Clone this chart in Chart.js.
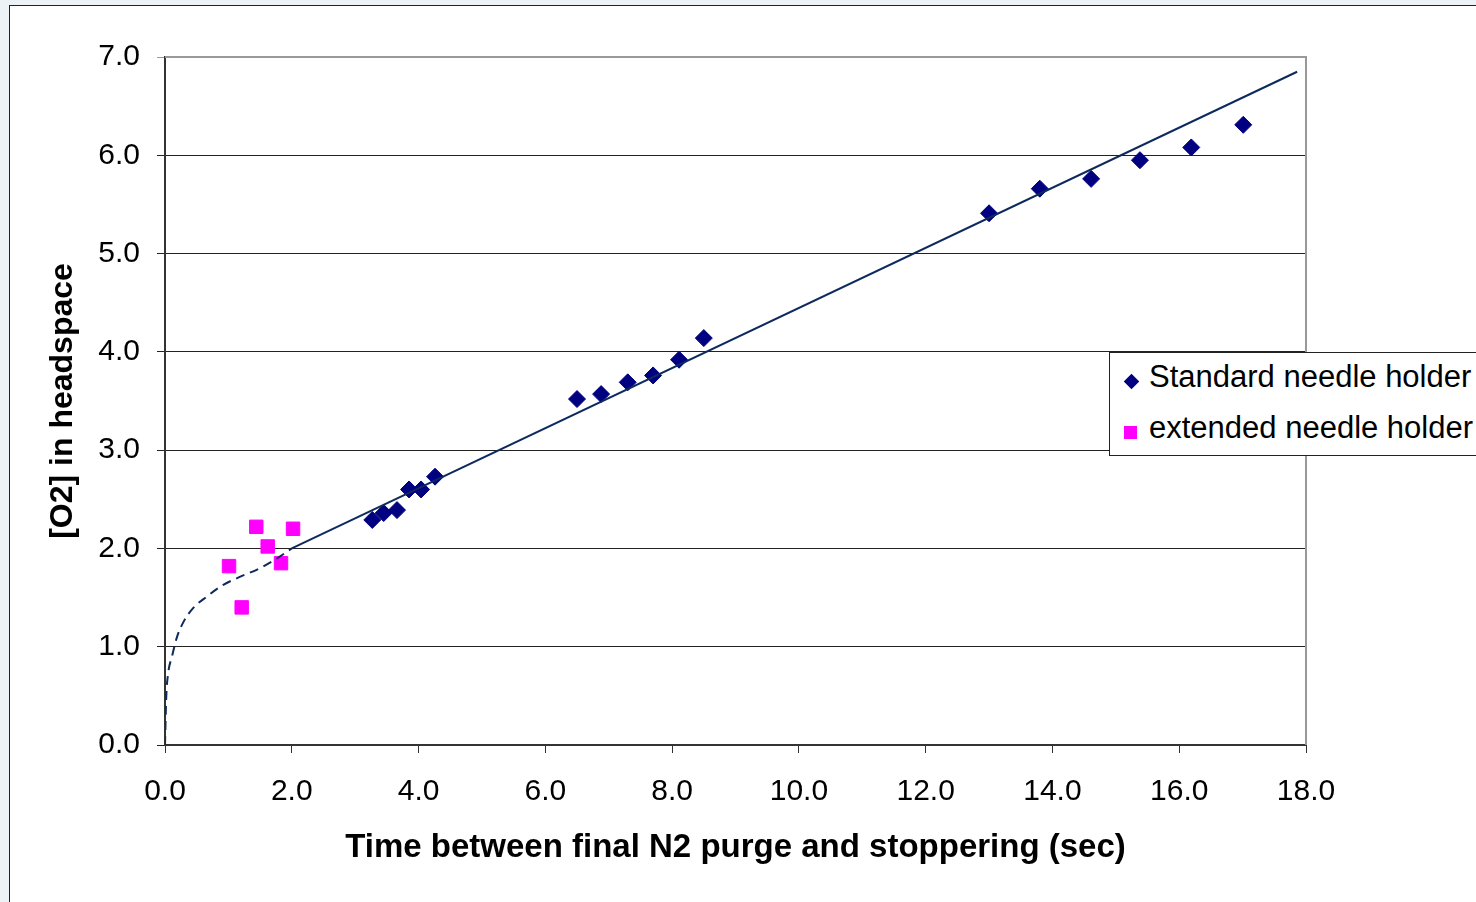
<!DOCTYPE html>
<html lang="en">
<head>
    <meta charset="UTF-8">
    <title>O2 in headspace vs time</title>
    <script src="https://cdn.jsdelivr.net/npm/chart.js"></script>
    <style>
        body {
            margin: 0;
            width: 1476px;
            height: 902px;
            overflow: hidden;
            background-color: #edf2f7;
            font-family: Arial, "Liberation Sans", sans-serif;
        }
        .frame {
            position: absolute;
            left: 9px;
            top: 5px;
            width: 1480px;
            height: 910px;
            border: 1px solid #222;
            background: #fff;
        }
        canvas {
            position: absolute;
            left: 0;
            top: 0;
        }
        .legend {
            position: absolute;
            left: 1109px;
            top: 352px;
            width: 380px;
            height: 102px;
            border: 1px solid #222;
            background: #fff;
            font-size: 31px;
            color: #000;
        }
        .legend .item {
            position: absolute;
            left: 39px;
            white-space: nowrap;
        }
        .legend .mark {
            position: absolute;
        }
        .diamond {
            width: 11px;
            height: 11px;
            background: #000080;
            transform: rotate(45deg);
        }
        .square {
            width: 13px;
            height: 13px;
            background: #ff00ff;
        }
    </style>
</head>
<body>

<div class="frame"></div>
<canvas id="chart" width="1476" height="902"></canvas>

<div class="legend">
    <div class="mark diamond" style="left:16px; top:23px;"></div>
    <div class="item" style="top:6px;">Standard needle holder</div>
    <div class="mark square" style="left:14px; top:73px;"></div>
    <div class="item" style="top:57px;">extended needle holder</div>
</div>

<script>
    // valores
    const standardX = [3.27, 3.45, 3.66, 3.85, 4.04, 4.26, 6.50, 6.88, 7.30, 7.70, 8.11, 8.50,
                       13.00, 13.80, 14.61, 15.38, 16.19, 17.01];
    const standardY = [2.29, 2.36, 2.39, 2.60, 2.60, 2.73, 3.52, 3.57, 3.69, 3.76, 3.92, 4.14,
                       5.41, 5.66, 5.76, 5.95, 6.08, 6.31];

    const extendedX = [1.01, 1.21, 1.44, 1.62, 1.83, 2.02];
    const extendedY = [1.82, 1.40, 2.22, 2.02, 1.85, 2.20];

    // linha de tendência (trecho contínuo)
    const trendX = [2.0, 17.86];
    const trendY = [2.0, 6.85];

    // curva tracejada perto da origem
    const curveX = [0, 0.02, 0.05, 0.11, 0.19, 0.29, 0.44, 0.66, 0.92, 1.18, 1.50, 1.77, 2.0];
    const curveY = [0, 0.49, 0.73, 0.90, 1.10, 1.25, 1.39, 1.51, 1.63, 1.71, 1.80, 1.90, 2.0];

    const xTicks = [0, 2, 4, 6, 8, 10, 12, 14, 16, 18];
    const yTicks = [0, 1, 2, 3, 4, 5, 6, 7];

    const toPoints = (xs, ys) => xs.map((x, i) => ({ x: x, y: ys[i] }));

    const fontFamily = 'Arial, "Liberation Sans", sans-serif';

    // borda cinza do topo/direita da área do gráfico
    const plotFrame = {
        id: 'plotFrame',
        beforeDatasetsDraw(chart) {
            const { ctx, chartArea } = chart;
            ctx.save();
            ctx.strokeStyle = '#999';
            ctx.lineWidth = 2;
            ctx.beginPath();
            ctx.moveTo(chartArea.left, chartArea.top);
            ctx.lineTo(chartArea.right, chartArea.top);
            ctx.lineTo(chartArea.right, chartArea.bottom);
            ctx.stroke();
            ctx.restore();
        }
    };

    new Chart(document.getElementById('chart').getContext('2d'), {
        type: 'scatter',
        data: {
            datasets: [
                {
                    label: 'trend',
                    data: toPoints(trendX, trendY),
                    showLine: true,
                    borderColor: '#0d2a5e',
                    borderWidth: 2,
                    pointRadius: 0,
                    order: 0
                },
                {
                    label: 'curve',
                    data: toPoints(curveX, curveY),
                    showLine: true,
                    borderColor: '#0d2a5e',
                    borderWidth: 2,
                    borderDash: [9, 6],
                    pointRadius: 0,
                    cubicInterpolationMode: 'monotone',
                    order: 0
                },
                {
                    label: 'Standard needle holder',
                    data: toPoints(standardX, standardY),
                    pointStyle: 'rectRot',
                    pointRadius: 8.5,
                    backgroundColor: '#000080',
                    borderColor: '#000080',
                    borderWidth: 1,
                    order: 1
                },
                {
                    label: 'extended needle holder',
                    data: toPoints(extendedX, extendedY),
                    pointStyle: 'rect',
                    pointRadius: 9.5,
                    backgroundColor: '#ff00ff',
                    borderColor: '#ff00ff',
                    borderWidth: 1,
                    order: 1
                }
            ]
        },
        options: {
            responsive: false,
            animation: false,
            layout: { padding: { top: 57, right: 170, left: 0, bottom: 0 } },
            plugins: {
                legend: { display: false },
                tooltip: { enabled: false }
            },
            scales: {
                x: {
                    type: 'linear',
                    min: 0,
                    max: 18,
                    afterBuildTicks: (scale) => { scale.ticks = xTicks.map(v => ({ value: v })); },
                    afterFit: (scale) => { scale.height = 157; },
                    border: { color: '#333', width: 2 },
                    grid: { drawOnChartArea: false, drawTicks: true, tickLength: 8, color: '#333' },
                    ticks: {
                        color: '#000',
                        padding: 21,
                        font: { family: fontFamily, size: 30 },
                        callback: (v) => Number(v).toFixed(1)
                    },
                    title: {
                        display: true,
                        text: 'Time between final N2 purge and stoppering (sec)',
                        color: '#000',
                        font: { family: fontFamily, size: 33, weight: 'bold' },
                        padding: { top: 0, bottom: 34 }
                    }
                },
                y: {
                    type: 'linear',
                    min: 0,
                    max: 7,
                    afterBuildTicks: (scale) => { scale.ticks = yTicks.map(v => ({ value: v })); },
                    afterFit: (scale) => { scale.width = 165; },
                    border: { color: '#333', width: 2 },
                    grid: {
                        drawTicks: true,
                        tickLength: 8,
                        lineWidth: 1,
                        color: (ctx) => (ctx.tick && ctx.tick.value === 7 ? '#999' : '#222')
                    },
                    ticks: {
                        color: '#000',
                        padding: 17,
                        font: { family: fontFamily, size: 30 },
                        callback: (v) => Number(v).toFixed(1)
                    },
                    title: {
                        display: true,
                        text: '[O2] in headspace',
                        color: '#000',
                        font: { family: fontFamily, size: 32, weight: 'bold' },
                        padding: { top: 44, bottom: 0 }
                    }
                }
            }
        },
        plugins: [plotFrame]
    });
</script>

</body>
</html>
